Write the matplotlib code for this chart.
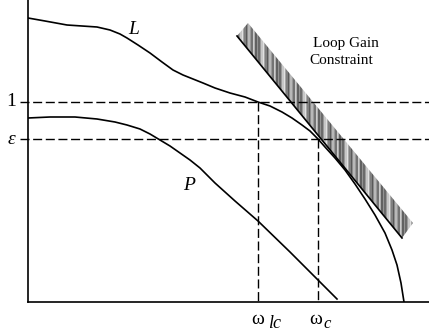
import numpy as np
import matplotlib.pyplot as plt
from matplotlib.patches import Polygon

L_x = [28, 45, 67, 97, 110, 120, 127, 138, 150, 162, 173, 183, 193, 203, 215, 230, 245, 258,
       270, 282, 292, 302, 310, 318, 325, 335, 345, 355, 365, 375, 385, 392, 397, 401, 404]
L_y = [18, 21, 25, 27, 30, 34, 38, 45, 53, 62, 70, 75, 79, 83, 88, 93, 97, 102,
       106, 112, 118, 125, 131, 139, 147, 158, 170, 184, 199, 215, 233, 250, 265, 283, 302]
P_x = [28, 50, 75, 97, 115, 127, 140, 150, 160, 170, 180, 190, 200, 215, 235, 258, 290, 318, 337]
P_y = [118, 117, 117, 119, 122, 125, 129, 134, 140, 146, 153, 160, 168, 183, 201, 221, 252, 280, 299]

level_one = 102
level_eps = 139
w_lc = 258
w_c = 318

# loop gain constraint band corners
band_x = [237, 248, 413, 402]
band_y = [36, 23, 223, 238]

serif = ['Liberation Serif', 'DejaVu Serif']

fig = plt.figure(figsize=(4.29, 3.36), dpi=100)
ax = fig.add_axes([28 / 429, 34 / 336, 401 / 429, 302 / 336])
ax.set_xlim(28, 429)
ax.set_ylim(302, 0)
ax.set_xticks([])
ax.set_yticks([])
for s in ['top', 'right']:
    ax.spines[s].set_visible(False)
for s in ['left', 'bottom']:
    ax.spines[s].set_linewidth(1.2)

# striped band, stripes a few pixels wide in mixed greys
greys = [0.42, 0.42, 0.6, 0.78, 0.78, 0.88, 0.65, 0.5, 0.5, 0.35, 0.55, 0.72, 0.72,
         0.6, 0.45, 0.45, 0.8, 0.68, 0.38, 0.38, 0.58]
ncol = max(band_x) - min(band_x)
row = np.array([greys[i % len(greys)] for i in range(ncol)])
tex = np.tile(row, (max(band_y) - min(band_y), 1))
im = ax.imshow(tex, cmap='gray', vmin=0, vmax=1, aspect='auto', interpolation='nearest',
               extent=[min(band_x), max(band_x), max(band_y), min(band_y)], zorder=1)
poly = Polygon(list(zip(band_x, band_y)), closed=True, facecolor='none', edgecolor='none')
ax.add_patch(poly)
im.set_clip_path(poly)
ax.plot([band_x[0], band_x[3]], [band_y[0], band_y[3]], color='black', lw=1.2, zorder=3)

# dashed reference lines
dash = (0, (6.5, 2.6))
for lv in [level_one, level_eps]:
    ax.plot([20, 429], [lv, lv], color='black', lw=1.0, ls=dash, clip_on=False, zorder=2)
ax.plot([w_lc, w_lc], [level_one, 302], color='black', lw=1.0, ls=dash, zorder=2)
ax.plot([w_c, w_c], [level_eps, 302], color='black', lw=1.0, ls=dash, zorder=2)

ax.plot(L_x, L_y, color='black', lw=1.2, zorder=4)
ax.plot(P_x, P_y, color='black', lw=1.2, zorder=4)

ax.text(134, 29, 'L', family=serif, style='italic', fontsize=14, ha='center', va='center')
ax.text(189, 186, 'P', family=serif, style='italic', fontsize=14, ha='center', va='center')
ax.text(11, level_one - 1, '1', family=serif, fontsize=14, ha='center', va='center',
        clip_on=False)
ax.text(11, level_eps, 'ε', family=serif, style='italic', fontsize=14, ha='center',
        va='center', clip_on=False)
ax.text(346, 43, 'Loop Gain', family=serif, fontsize=11, ha='center', va='center')
ax.text(341, 61, 'Constraint', family=serif, fontsize=11, ha='center', va='center')

ax.text(258, 319, 'ω', family=serif, fontsize=14, ha='center', va='center', clip_on=False)
ax.text(268, 324, 'lc', family=serif, style='italic', fontsize=13, ha='left', va='center',
        clip_on=False)
ax.text(316, 319, 'ω', family=serif, fontsize=14, ha='center', va='center', clip_on=False)
ax.text(323, 324, 'c', family=serif, style='italic', fontsize=12, ha='left', va='center',
        clip_on=False)

fig.savefig('out.png', dpi=100)
